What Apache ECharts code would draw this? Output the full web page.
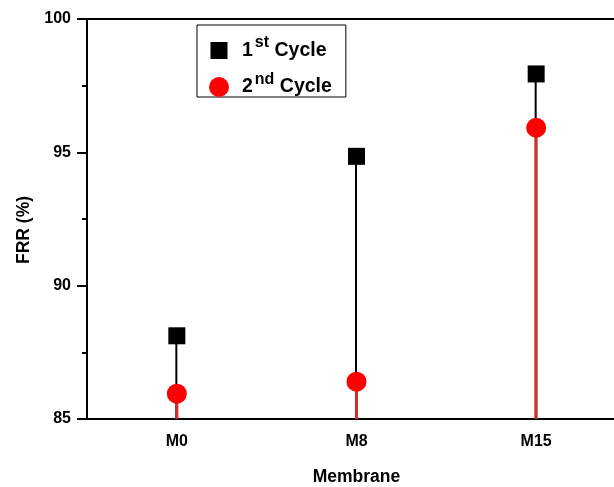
<!DOCTYPE html>
<html>
<head>
<meta charset="utf-8">
<script src="https://cdn.jsdelivr.net/npm/echarts@6/dist/echarts.min.js"></script>
<style>html,body{margin:0;padding:0;background:#fff}#c{width:614px;height:487px}</style>
</head>
<body>
<div id="c"></div>
<script>
var categories = ['M0', 'M8', 'M15'];
var cycle1 = [88.12, 94.85, 97.94];
var cycle2 = [85.95, 86.40, 95.92];
var yTicks = [85, 90, 95, 100];

var FONT = 'Liberation Sans, Arial, sans-serif';
var chart = echarts.init(document.getElementById('c'));
var legendRich = {
  n: {fontSize: 19.5, fontWeight: 'bold', fontFamily: FONT, color: '#000', padding: [0, 2, 0, 8]},
  s: {fontSize: 16, fontWeight: 'bold', fontFamily: FONT, color: '#000', padding: [0, 0, 15, 0]},
  t: {fontSize: 19.5, fontWeight: 'bold', fontFamily: FONT, color: '#000'}
};
chart.setOption({
  animation: false,
  backgroundColor: '#fff',
  grid: {left: 87, top: 19, right: -12, bottom: 68, containLabel: false, outerBoundsMode: 'none'},
  legend: {
    orient: 'vertical',
    left: 197, top: 25,
    padding: [10, 14, 0, 12],
    itemWidth: 20, itemHeight: 20, itemGap: 11,
    borderColor: '#000', borderWidth: 1,
    selectedMode: false,
    data: [
      {name: '1st Cycle', icon: 'path://M0,0h0.01v0.01h-0.01z M1.5,1.5h17v17h-17z M19.99,19.99h0.01v0.01h-0.01z'},
      {name: '2nd Cycle', icon: 'circle'}
    ],
    formatter: function (name) {
      return name === '1st Cycle' ? '{n|1}{s|st}{t| Cycle}' : '{n|2}{s|nd}{t| Cycle}';
    },
    textStyle: {rich: legendRich}
  },
  xAxis: [{
    type: 'category',
    data: categories,
    boundaryGap: true,
    name: 'Membrane',
    nameLocation: 'middle',
    nameGap: 49,
    nameTextStyle: {fontSize: 17.5, fontWeight: 'bold', fontFamily: FONT, color: '#000'},
    axisLine: {lineStyle: {color: '#000', width: 2}},
    axisTick: {alignWithLabel: true, length: 10, lineStyle: {color: '#000', width: 2}},
    axisLabel: {margin: 15, fontSize: 16, fontWeight: 'bold', fontFamily: FONT, color: '#000'}
  }, {
    type: 'category',
    data: categories,
    position: 'top',
    boundaryGap: true,
    axisLine: {lineStyle: {color: '#000', width: 2}},
    axisTick: {alignWithLabel: true, inside: true, length: 2, lineStyle: {color: '#000', width: 1}},
    axisLabel: {show: false}
  }],
  yAxis: {
    type: 'value',
    min: yTicks[0], max: yTicks[yTicks.length - 1], interval: 5,
    name: 'FRR (%)',
    nameLocation: 'middle',
    nameGap: 54,
    nameTextStyle: {fontSize: 17.5, fontWeight: 'bold', fontFamily: FONT, color: '#000', padding: [0, 22, 0, 0]},
    axisLine: {show: true, lineStyle: {color: '#000', width: 2}},
    axisTick: {show: true, length: 10, lineStyle: {color: '#000', width: 2}},
    minorTick: {show: true, splitNumber: 2, length: 5, lineStyle: {color: '#000', width: 2}},
    splitLine: {show: false},
    axisLabel: {margin: 16, fontSize: 16, fontWeight: 'bold', fontFamily: FONT, color: '#000'}
  },
  series: [
    {
      name: '1st Cycle drop', type: 'bar', data: cycle1, barWidth: 2, barGap: '-100%',
      itemStyle: {color: '#000'}, silent: true, z: 1
    },
    {
      name: '2nd Cycle drop', type: 'bar', data: cycle2, barWidth: 3, barGap: '-100%',
      itemStyle: {color: '#d92b2b'}, silent: true, z: 2
    },
    {
      name: '1st Cycle', type: 'scatter', data: cycle1, symbol: 'rect', symbolSize: 17,
      itemStyle: {color: '#000', opacity: 1}, z: 3
    },
    {
      name: '2nd Cycle', type: 'scatter', data: cycle2, symbol: 'circle', symbolSize: 20,
      itemStyle: {color: '#ff0000', opacity: 1}, z: 4
    }
  ]
});
</script>
</body>
</html>
